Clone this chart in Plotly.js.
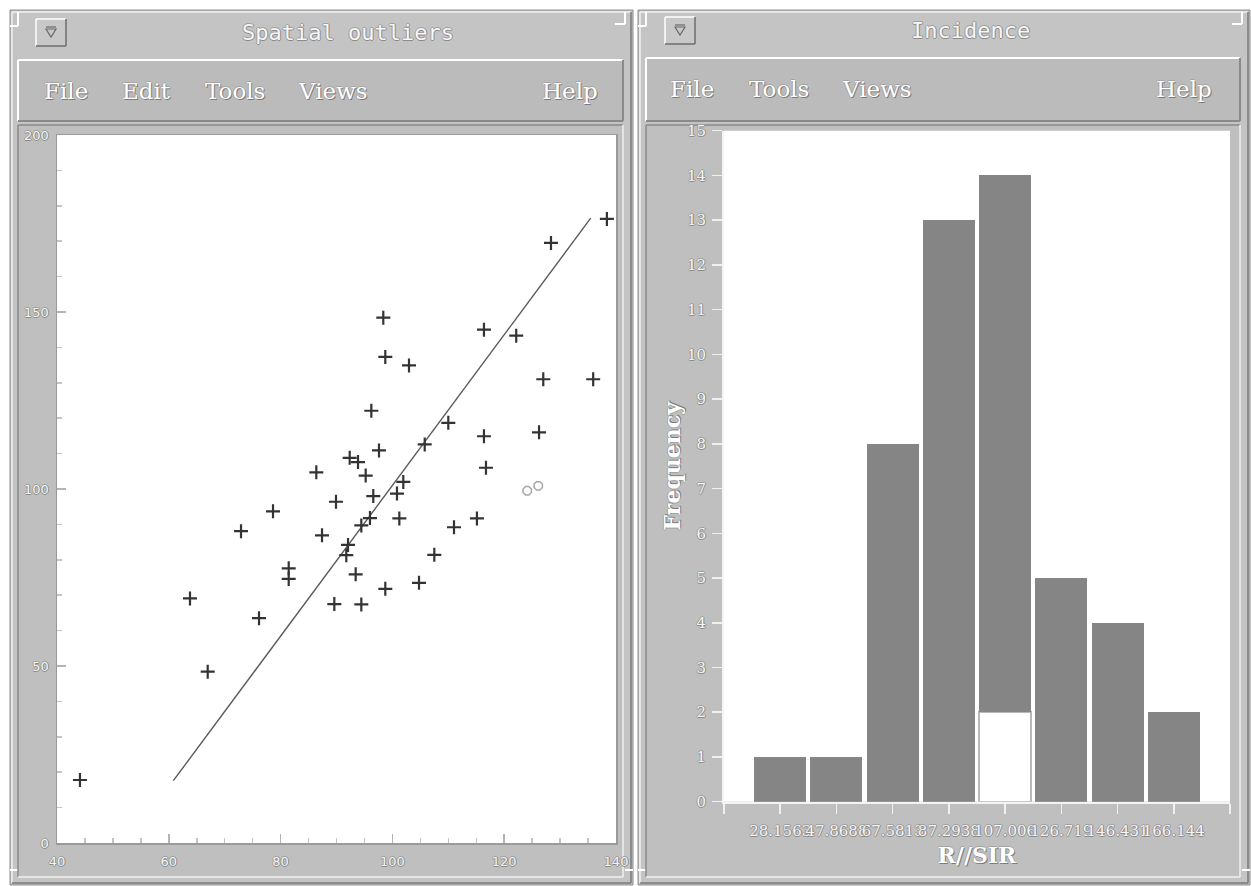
<!DOCTYPE html>
<html>
<head>
<meta charset="utf-8">
<script src="https://cdn.plot.ly/plotly-3.0.1.min.js"></script>
<style>html,body{margin:0;padding:0;background:#fff;}#chart{width:1251px;height:886px;}</style>
</head>
<body>
<div id="chart"></div>
<script>
// ---------- data ----------
const scatterX = [44.11, 63.79, 66.96, 72.92, 76.14, 78.64, 81.45, 81.45, 86.39, 87.41,
  89.61, 89.91, 92.36, 93.85, 95.22, 97.60, 92.06, 91.75, 93.43, 94.44,
  94.44, 95.99, 96.58, 100.82, 101.95, 101.24, 98.73, 104.76, 107.50, 111.02,
  105.78, 110.00, 115.12, 116.74, 116.38, 126.23, 96.23, 98.73, 102.97, 98.37,
  116.38, 122.15, 126.99, 135.92, 128.37, 138.37];
const scatterY = [17.8, 69.1, 48.4, 88.1, 63.5, 93.7, 77.6, 74.6, 104.7, 86.9,
  67.5, 96.4, 108.8, 107.6, 103.8, 110.9, 84.2, 81.3, 75.9, 67.4,
  89.7, 91.8, 98.0, 98.7, 102.0, 91.7, 71.8, 73.5, 81.4, 89.2,
  112.6, 118.7, 91.7, 106.0, 114.9, 116.0, 122.1, 137.3, 134.9, 148.4,
  145.0, 143.3, 131.0, 131.0, 169.5, 176.3];
const fitX = [60.81, 135.47];
const fitY = [17.6, 176.5];
const outlierX = [124.12, 126.09];
const outlierY = [99.5, 100.9];

const binCenters = [28.1563, 47.8688, 67.5813, 87.2938, 107.0063, 126.7188, 146.4313, 166.1438];
const binLabels = ['28.1563', '47.8688', '67.5813', '87.2938', '107.006', '126.719', '146.431', '166.144'];
const selectedCounts = [0, 0, 0, 0, 2, 0, 0, 0];
const otherCounts = [1, 1, 8, 13, 12, 5, 4, 2];
const binWidth = 19.7125;

// ---------- helpers for window chrome (pixel -> paper) ----------
const W = 1251, H = 886;
const X = v => v / W, Y = v => 1 - v / H;
function box(x0, y0, x1, y1, fill, lc, lw) {
  return {type: 'rect', xref: 'paper', yref: 'paper', x0: X(x0), x1: X(x1), y0: Y(y1), y1: Y(y0),
    fillcolor: fill, line: {color: lc || 'rgba(0,0,0,0)', width: lw || 0}, layer: 'below'};
}
function ln(x0, y0, x1, y1, c, w) {
  return {type: 'line', xref: 'paper', yref: 'paper', x0: X(x0), x1: X(x1), y0: Y(y0), y1: Y(y1),
    line: {color: c, width: w || 1}, layer: 'below'};
}
function bevel(x0, y0, x1, y1, light, dark, w) {
  return [ln(x0, y0, x1, y0, light, w), ln(x0, y0, x0, y1, light, w),
          ln(x0, y1, x1, y1, dark, w), ln(x1, y0, x1, y1, dark, w)];
}
function txt(x, y, t, font, extra) {
  return Object.assign({xref: 'paper', yref: 'paper', x: X(x), y: Y(y), text: t, showarrow: false,
    xanchor: 'center', yanchor: 'middle', font: font}, extra || {});
}
const emboss = '1px 1px 0 #7c7c7c, -1px 0 0 #a4a4a4, 0 -1px 0 #a4a4a4';
const outline = '1px 0 0 #8a8a8a, 0 1px 0 #8a8a8a, -1px 0 0 #a0a0a0, 0 -1px 0 #a0a0a0';
const menuFont = {family: 'DejaVu Serif', size: 23, color: '#ffffff', shadow: emboss};
const titleFont = {family: 'DejaVu Sans Mono', size: 22, color: '#f6f6f6', shadow: outline};

let shapes = [];
function windowChrome(x0, x1, btnX, btnY, menuTop) {
  shapes.push(box(x0, 10, x1, 885, '#c4c4c4', '#8e8e8e', 1));
  shapes.push(...bevel(x0 + 2, 12, x1 - 2, 883, '#f2f2f2', '#7a7a7a', 1.5));
  shapes.push(ln(x0, 26, x0 + 8, 26, '#ffffff', 2), ln(x0 + 8, 12, x0 + 8, 26, '#ffffff', 2));
  shapes.push(ln(x1 - 18, 24, x1 - 8, 24, '#ffffff', 2), ln(x1 - 8, 12, x1 - 8, 24, '#ffffff', 2));
  shapes.push(ln(x0, 870, x0 + 8, 870, '#ffffff', 2), ln(x1 - 8, 870, x1, 870, '#ffffff', 2));
  shapes.push(box(btnX, btnY, btnX + 30, btnY + 27, '#c8c8c8'));
  shapes.push(...bevel(btnX, btnY, btnX + 30, btnY + 27, '#ffffff', '#6e6e6e', 1.5));
  const cx = btnX + 15, cy = btnY + 13;
  shapes.push({type: 'path', xref: 'paper', yref: 'paper', layer: 'below',
    path: `M ${X(cx - 5)} ${Y(cy - 3)} L ${X(cx + 5)} ${Y(cy - 3)} L ${X(cx)} ${Y(cy + 5)} Z`,
    fillcolor: 'rgba(0,0,0,0)', line: {color: '#6a6a6a', width: 1.2}});
  shapes.push(ln(cx - 5, cy - 5, cx + 5, cy - 5, '#6a6a6a', 1.2));
  shapes.push(box(x0 + 8, menuTop, x1 - 10, 121, '#bbbbbb'));
  shapes.push(...bevel(x0 + 8, menuTop, x1 - 10, 121, '#ffffff', '#8a8a8a', 2));
  shapes.push(box(x0 + 8, 125, x1 - 10, 877, '#bfbfbf'));
  shapes.push(...bevel(x0 + 8, 125, x1 - 10, 877, '#8a8a8a', '#f0f0f0', 1.5));
}
windowChrome(10, 633, 36, 19, 60);
windowChrome(638, 1250, 665, 17, 58);
// white plotting areas (drawn over the panels, under the traces)
shapes.push(box(57, 135, 616, 843, '#ffffff'));
shapes.push(box(724, 130.7, 1230, 801.7, '#ffffff'));

const annotations = [
  txt(348, 32, 'Spatial outliers', titleFont),
  txt(970, 30, 'Incidence', titleFont),
  txt(66, 91, 'File', menuFont), txt(146, 91, 'Edit', menuFont), txt(235, 91, 'Tools', menuFont),
  txt(333, 91, 'Views', menuFont), txt(570, 91, 'Help', menuFont),
  txt(692, 89, 'File', menuFont), txt(779, 89, 'Tools', menuFont), txt(877, 89, 'Views', menuFont),
  txt(1184, 89, 'Help', menuFont)
];

// ---------- traces ----------
const traces = [
  {type: 'scatter', mode: 'lines', x: fitX, y: fitY, xaxis: 'x', yaxis: 'y',
   line: {color: '#5a5a5a', width: 1.4}, hoverinfo: 'skip', showlegend: false},
  {type: 'scatter', mode: 'markers', x: scatterX, y: scatterY, xaxis: 'x', yaxis: 'y',
   marker: {symbol: 'cross-thin-open', size: 10, color: '#333333', line: {width: 2.2, color: '#333333'}}, showlegend: false},
  {type: 'scatter', mode: 'markers', x: outlierX, y: outlierY, xaxis: 'x', yaxis: 'y',
   marker: {symbol: 'octagon-open', size: 9, color: '#a8a8a8', line: {width: 1.5, color: '#a8a8a8'}}, showlegend: false},
  {type: 'bar', x: binCenters, y: selectedCounts, xaxis: 'x2', yaxis: 'y2', width: binWidth * 0.925,
   marker: {color: '#ffffff', line: {color: '#b8b8b8', width: 1.5}}, showlegend: false},
  {type: 'bar', x: binCenters, y: otherCounts, xaxis: 'x2', yaxis: 'y2', width: binWidth * 0.925,
   marker: {color: '#858585', line: {color: '#858585', width: 0}}, showlegend: false}
];

const scTick = {family: 'DejaVu Sans', size: 13, color: '#f4f4f4', shadow: outline};
const hTick = {family: 'DejaVu Serif', size: 15, color: '#f4f4f4', shadow: outline};
const hTitle = {family: 'DejaVu Serif', size: 22, color: '#ffffff', weight: 'bold', shadow: emboss};

const layout = {
  width: W, height: H, margin: {l: 0, r: 0, t: 0, b: 0},
  paper_bgcolor: '#ffffff', plot_bgcolor: '#ffffff',
  barmode: 'stack', showlegend: false,
  shapes: shapes, annotations: annotations,
  xaxis: {domain: [X(57), X(616)], range: [40, 140], anchor: 'y',
    tick0: 40, dtick: 20, ticks: 'inside', ticklen: 9, tickcolor: '#b4b4b4', tickwidth: 1.5,
    minor: {dtick: 5, ticks: 'inside', ticklen: 5, tickcolor: '#c4c4c4', showgrid: false},
    showgrid: false, zeroline: false, showline: true, linecolor: '#9a9a9a', linewidth: 1.5, mirror: true,
    tickfont: scTick, ticklabelstandoff: 6},
  yaxis: {domain: [Y(843), Y(135)], range: [0, 200], anchor: 'x',
    tick0: 0, dtick: 50, ticks: 'inside', ticklen: 9, tickcolor: '#b4b4b4', tickwidth: 1.5,
    minor: {dtick: 10, ticks: 'inside', ticklen: 5, tickcolor: '#c4c4c4', showgrid: false},
    showgrid: false, zeroline: false, showline: true, linecolor: '#9a9a9a', linewidth: 1.5, mirror: true,
    tickfont: scTick, ticklabelstandoff: 4},
  xaxis2: {domain: [X(724), X(1230)], range: [binCenters[0] - binWidth, binCenters[binCenters.length - 1] + binWidth],
    anchor: 'y2', tickmode: 'array',
    tickvals: [binCenters[0] - binWidth].concat(binCenters, [binCenters[binCenters.length - 1] + binWidth]),
    ticktext: [''].concat(binLabels, ['']), tickangle: 0,
    ticks: 'outside', ticklen: 10, tickcolor: '#f0f0f0', tickwidth: 1.5,
    showgrid: false, zeroline: false, showline: true, linecolor: '#f4f4f4', linewidth: 2,
    tickfont: hTick, ticklabelstandoff: 4,
    title: {text: 'R//SIR', font: hTitle, standoff: 9}},
  yaxis2: {domain: [Y(801.7), Y(130.7)], range: [0, 15], anchor: 'x2',
    tick0: 0, dtick: 1, ticks: 'outside', ticklen: 10, tickcolor: '#f0f0f0', tickwidth: 1.5,
    showgrid: false, zeroline: false, showline: true, linecolor: '#f4f4f4', linewidth: 2,
    tickfont: hTick, ticklabelstandoff: 3,
    title: {text: 'Frequency', font: hTitle, standoff: 0}}
};

Plotly.newPlot('chart', traces, layout, {displayModeBar: false, staticPlot: true});
</script>
</body>
</html>
